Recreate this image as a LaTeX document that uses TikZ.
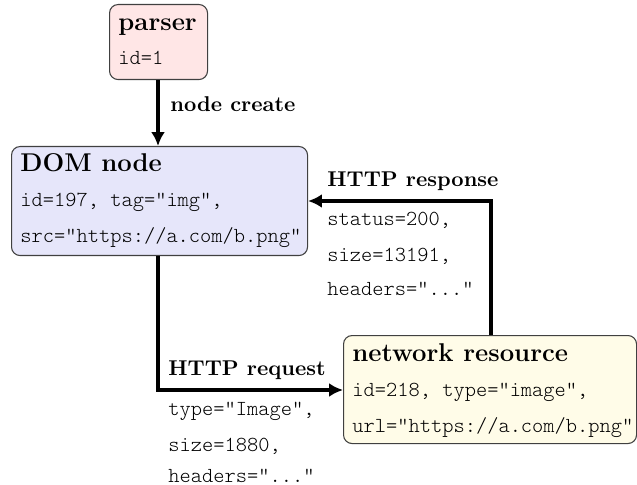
\documentclass[tikz,border=0pt]{standalone}
\usetikzlibrary{arrows.meta}
\definecolor{pinkfill}{RGB}{255,230,230}
\definecolor{lavfill}{RGB}{230,230,250}
\definecolor{creamfill}{RGB}{255,252,232}
\begin{document}
\begin{tikzpicture}[x=0.4672pt,y=-0.4672pt,
  box/.style={draw=black!75,line width=0.5pt,rounded corners=4pt,inner sep=0pt},
  title/.style={font=\large\bfseries,anchor=base west,inner sep=0pt},
  lbl/.style={font=\bfseries,anchor=base west,inner sep=0pt},
  code/.style={font=\fontseries{l}\ttfamily,anchor=base west,inner sep=0pt},
  flow/.style={line width=1.8pt,-{Latex[length=6.5pt,width=6.5pt]}}]
\useasboundingbox (0,0) rectangle (637,485);
% boxes
\node[box,fill=pinkfill,minimum width=98*0.4672pt,minimum height=75*0.4672pt,anchor=north west] (parser) at (109,4) {};
\node[box,fill=lavfill,minimum width=296*0.4672pt,minimum height=109*0.4672pt,anchor=north west] (dom) at (11,146) {};
\node[box,fill=creamfill,minimum width=293*0.4672pt,minimum height=108*0.4672pt,anchor=north west] (net) at (343,335) {};
% box texts
\node[title] (ptitle) at (118,31) {parser};
\node[code] (pid) at (118,65) {id=1};
\node[title] (dtitle) at (20,172) {DOM node};
\node[code] (d1) at (20,207) {id=197, tag="img",};
\node[code] (d2) at (20,243) {src="https://a.com/b.png"};
\node[title] (ntitle) at (352,361) {network resource};
\node[code] (n1) at (352,396) {id=218, type="image",};
\node[code] (n2) at (352,432) {url="https://a.com/b.png"};
% connectors
\coordinate (pb) at (158,79);
\draw[flow] (parser.south -| pb) -- (dom.north -| pb);
\node[lbl] (lcreate) at (170,112) {node create};
\coordinate (rq) at (158,390);
\draw[flow] (dom.south -| rq) |- (net.west |- rq);
\node[lbl] (lreq) at (168,375) {HTTP request};
\node[code] (q1) at (168,415) {type="Image",};
\node[code] (q2) at (168,451) {size=1880,};
\node[code] (q3) at (168,482) {headers="..."};
\coordinate (rs) at (491,201);
\draw[flow] (net.north -| rs) |- (dom.east |- rs);
\node[lbl] (lresp) at (327,187) {HTTP response};
\node[code] (s1) at (327,226) {status=200,};
\node[code] (s2) at (327,261) {size=13191,};
\node[code] (s3) at (327,295) {headers="..."};
\end{tikzpicture}
\end{document}
